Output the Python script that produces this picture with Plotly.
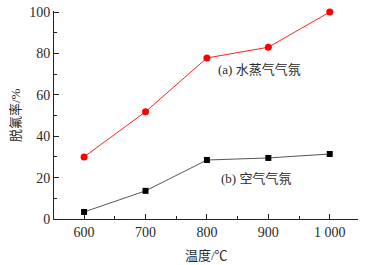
import plotly.graph_objects as go

temps = [600, 700, 800, 900, 1000]
steam = [30, 51.8, 77.8, 83, 100]
air = [3.4, 13.6, 28.5, 29.5, 31.4]
xtick_vals = [600, 700, 800, 900, 1000]
xtick_text = ["600", "700", "800", "900", "1 000"]
ytick_vals = [0, 20, 40, 60, 80, 100]

font_family = "Liberation Serif, Noto Sans CJK SC, serif"
txt_color = "#2a2a2a"

fig = go.Figure()
fig.add_trace(go.Scatter(x=temps, y=steam, mode="lines+markers",
                         line=dict(color="#ff2020", width=1),
                         marker=dict(symbol="circle", size=7, color="#ff0000"),
                         cliponaxis=False, showlegend=False))
fig.add_trace(go.Scatter(x=temps, y=air, mode="lines+markers",
                         line=dict(color="#555555", width=1),
                         marker=dict(symbol="square", size=6, color="#000000"),
                         cliponaxis=False, showlegend=False))

fig.add_annotation(x=886, y=72, text="(a) 水蒸气气氛", showarrow=False,
                   font=dict(size=13, color=txt_color, family=font_family))
fig.add_annotation(x=880, y=19.8, text="(b) 空气气氛", showarrow=False,
                   font=dict(size=13, color=txt_color, family=font_family))
# axis titles
fig.add_annotation(xref="paper", yref="paper", x=0, y=0.5, xshift=-39, textangle=-90,
                   xanchor="center", yanchor="middle",
                   text="脱氟率/%", showarrow=False,
                   font=dict(size=13, color=txt_color, family=font_family))
fig.add_annotation(xref="paper", yref="paper", x=0.5, y=0, yshift=-36,
                   xanchor="center", yanchor="middle",
                   text="温度/℃", showarrow=False,
                   font=dict(size=13, color=txt_color, family=font_family))

axis_common = dict(showline=True, linecolor="#222", linewidth=1, ticks="inside",
                   ticklen=5, tickcolor="#222", showgrid=False, zeroline=False,
                   tickfont=dict(size=14, color=txt_color, family=font_family),
                   mirror=False, automargin=False)

fig.update_xaxes(range=[551, 1046], tickvals=xtick_vals, ticktext=xtick_text,
                 minor=dict(ticks="inside", ticklen=3, dtick=50, tick0=550, tickcolor="#222"),
                 **axis_common)
fig.update_yaxes(range=[0, 100.5], tickvals=ytick_vals,
                 minor=dict(ticks="inside", ticklen=3, dtick=10, tick0=0, tickcolor="#222"),
                 **axis_common)

fig.update_layout(width=366, height=265, margin=dict(l=54, r=8, t=11, b=46),
                  paper_bgcolor="white", plot_bgcolor="white")

fig.write_html("out.html", config={"displayModeBar": False},
               post_script="document.body.style.margin='0';")
